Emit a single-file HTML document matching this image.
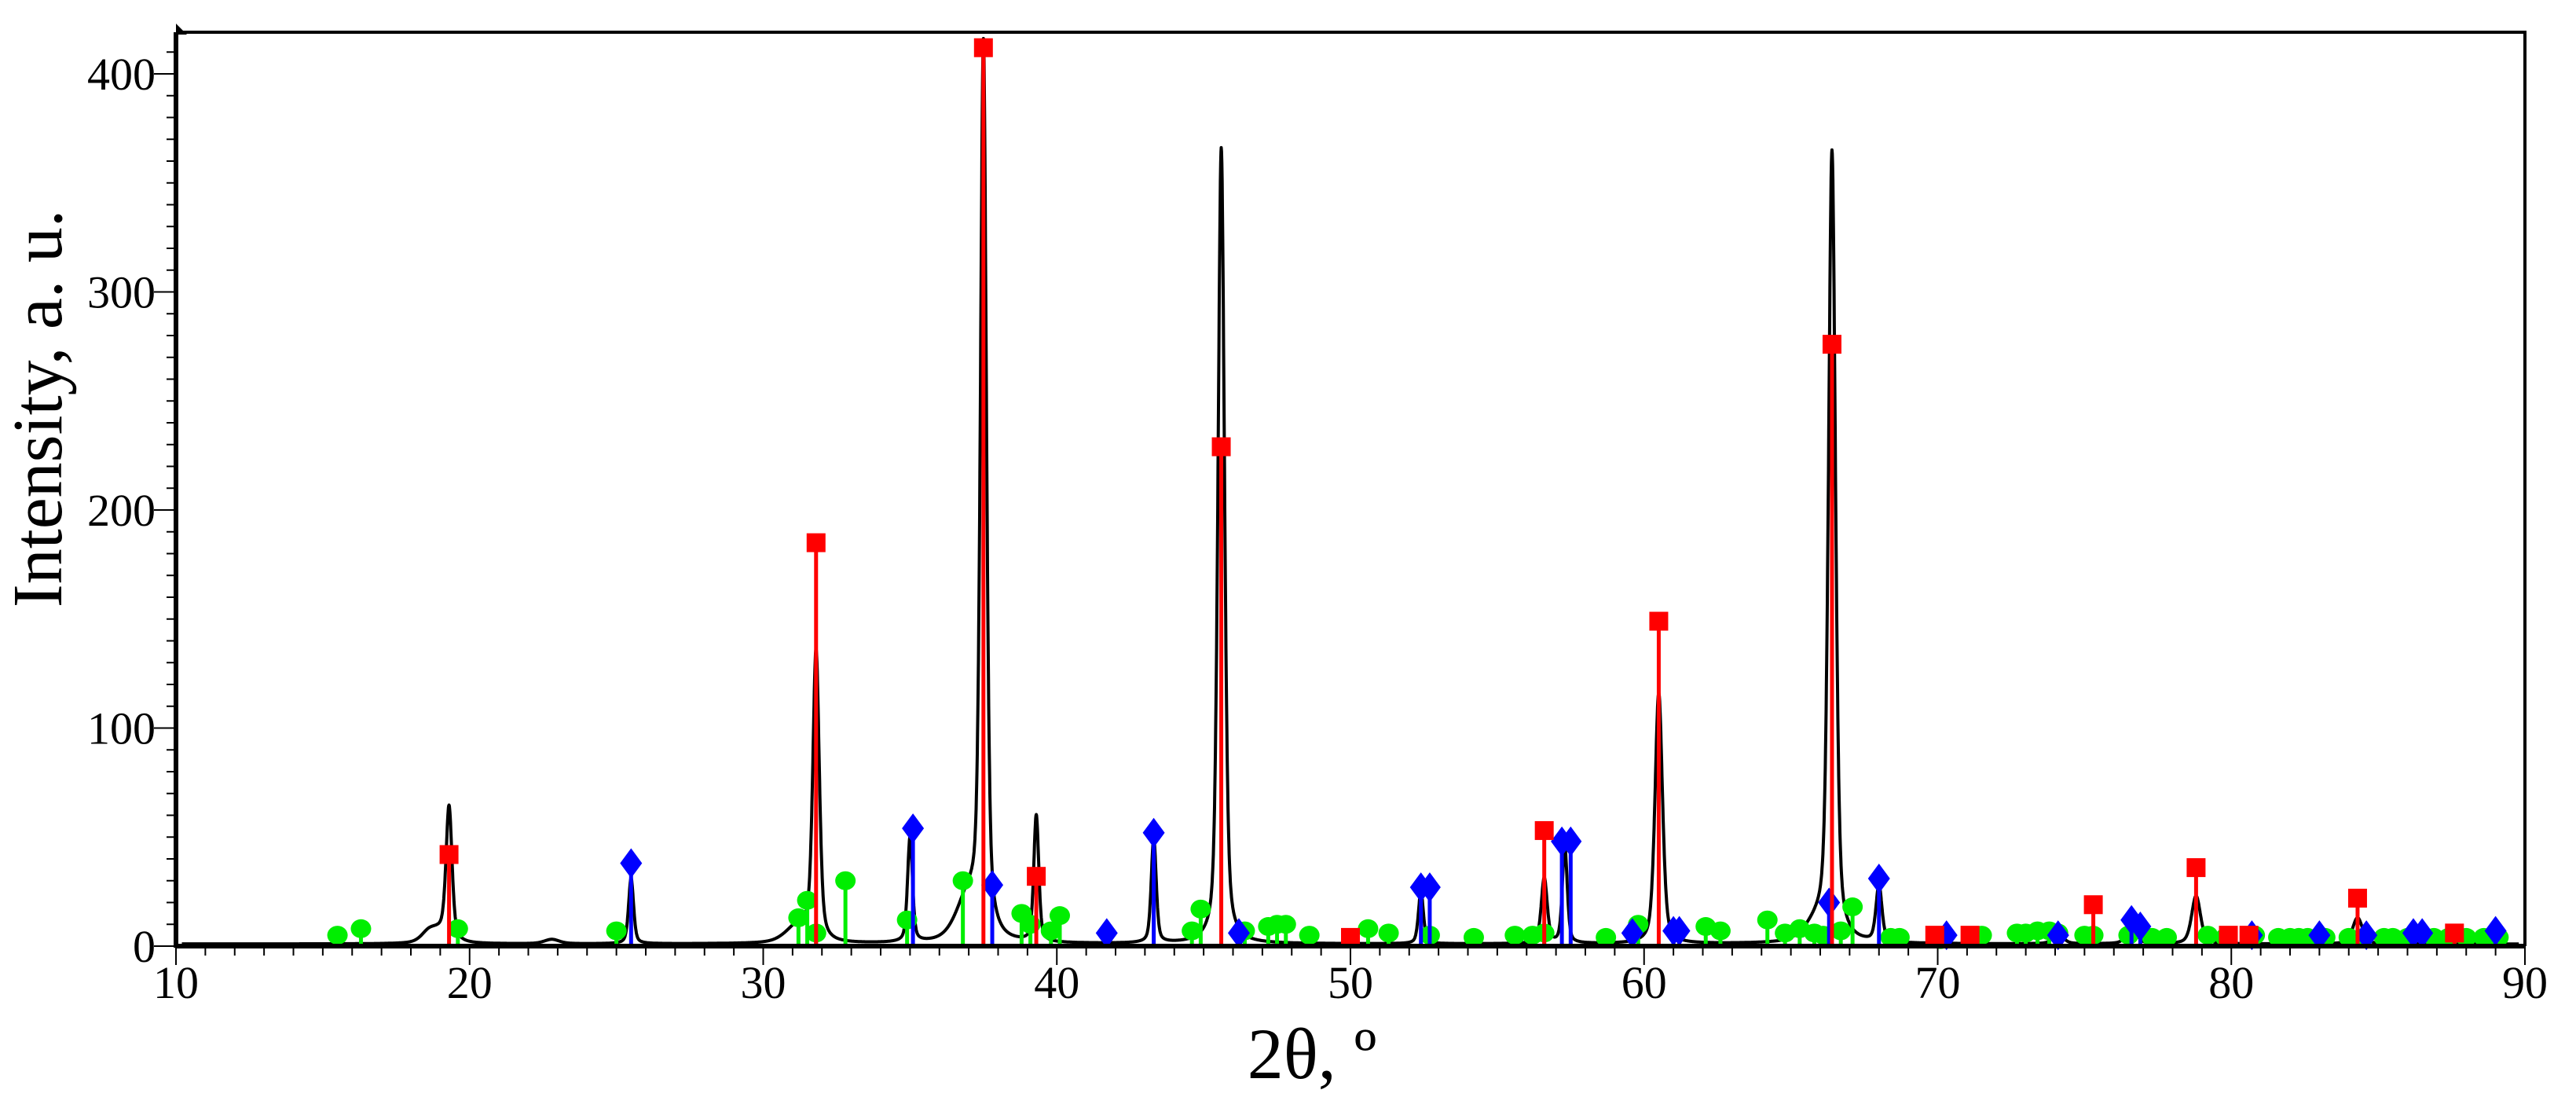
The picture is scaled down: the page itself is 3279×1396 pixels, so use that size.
<!DOCTYPE html>
<html><head><meta charset="utf-8"><style>
html,body{margin:0;padding:0;background:#fff;}
svg{display:block;font-family:"Liberation Serif",serif;}
</style></head><body>
<svg id="chart" width="3279" height="1396" viewBox="0 0 3279 1396" xmlns="http://www.w3.org/2000/svg">
<g id="frame"></g>
<g id="pattern"></g>
<g id="green"></g>
<g id="blue"></g>
<g id="red"></g>
<g id="axes"></g>
</svg>
<script>
// Diffraction pattern peaks (2theta, height, half-width)
const peakPos = [19.3,31.8,37.5,39.3,45.6,56.6,57.3,60.5,66.4,78.8,84.3,35.0,25.5,43.3,52.4,68.0,74.1,76.6,31.2,37.0,19.0,18.6,22.8,65.9];
const peakHeight = [60,132,405,58,365,30,44,115,360,22,12,48,30,48,24,26,5,8,8,20,5,4,2,8];
const peakWidth = [0.12,0.13,0.12,0.1,0.13,0.12,0.1,0.15,0.14,0.18,0.2,0.1,0.1,0.1,0.1,0.12,0.2,0.2,0.5,0.5,0.4,0.3,0.3,0.5];
// Red reference (2theta, intensity)
const redX = [19.3,31.8,37.5,39.3,45.6,50.0,56.6,60.5,66.4,69.9,71.1,75.3,78.8,79.9,80.6,84.3,87.6];
const redY = [42,185,412,32,229,4,53,149,276,5,5,19,36,5,5,22,6];
// Blue reference
const blueX = [25.5,35.1,37.8,41.7,43.3,46.2,52.4,52.7,57.2,57.5,59.6,61.0,61.2,66.3,68.0,70.3,74.1,76.6,76.9,80.7,83.0,84.6,86.2,86.5,89.0];
const blueY = [38,54,28,6,52,6,27,27,48,48,6,7,7,20,31,5,5,12,9,5,5,5,6,6,7];
// Green reference
const greenX = [15.5,16.3,19.6,25.0,31.2,31.5,31.8,32.8,34.9,36.8,38.8,39.1,39.8,40.1,44.6,44.9,46.4,47.2,47.5,47.8,48.6,50.6,51.3,52.7,54.2,55.6,56.2,56.6,58.7,59.8,62.1,62.6,64.2,64.8,65.3,65.8,66.1,66.7,67.1,68.4,68.7,70.1,71.5,72.7,73.0,73.4,73.8,74.1,75.0,75.3,76.5,77.3,77.8,79.2,79.8,80.8,81.6,82.0,82.3,82.6,83.2,84.0,84.5,85.2,85.5,86.0,86.9,87.4,88.0,88.6,89.1];
const greenY = [5,8,8,7,13,21,6,30,12,30,15,10,7,14,7,17,7,9,10,10,5,8,6,5,4,5,5,6,4,10,9,7,12,6,8,6,5,7,18,4,4,3,5,6,6,7,7,6,5,5,5,4,4,5,4,5,4,4,4,4,4,4,4,4,4,4,4,4,4,4,4];
const xTickLabels = ["10","20","30","40","50","60","70","80","90"];
const yTickLabels = ["0","100","200","300","400"];

const NS="http://www.w3.org/2000/svg";
const X0=224,X1=3214,Y0=1204,YT=94;
function X(v){return X0+(v-10)*(X1-X0)/80;}
function Y(v){return Y0-v*(Y0-YT)/400;}
function mk(tag,attrs,parent){const e=document.createElementNS(NS,tag);for(const k in attrs)e.setAttribute(k,attrs[k]);document.getElementById(parent).appendChild(e);return e;}

let f=mk('path',{d:`M${X0} 41 H${X1} V${Y0}`,fill:'none',stroke:'#000','stroke-width':4},'frame');



let d='';
for(let t=10.2;t<=89.8;t+=0.01){
  let s=1;
  for(let i=0;i<peakPos.length;i++){const g=peakWidth[i];const u=(t-peakPos[i])/g;s+=peakHeight[i]*(0.45/(1+u*u)+0.55*Math.exp(-0.693*u*u));}
  d+=(d?'L':'M')+X(t).toFixed(1)+' '+Y(s).toFixed(1);
}
let p=mk('path',{d:d,fill:'none',stroke:'#000','stroke-width':4,'stroke-linejoin':'round'},'pattern');



function sticks(xs,ys,color,shape,grp){
  for(let i=0;i<xs.length;i++){
    const x=X(xs[i]),y=Y(ys[i]);
    const l=mk('line',{x1:x,x2:x,y1:Y0,y2:y,stroke:color,'stroke-width':5},grp);
    
    
    let m;
    if(shape==='square') m=mk('rect',{x:x-12,y:y-12,width:24,height:24,fill:color},grp);
    else if(shape==='diamond') m=mk('polygon',{points:`${x},${y-19} ${x+14},${y} ${x},${y+19} ${x-14},${y}`,fill:color},grp);
    else m=mk('ellipse',{cx:x,cy:y,rx:13,ry:12,fill:color},grp);
    
    
  }
}
sticks(greenX,greenY,'#00ee00','circle','green');
sticks(blueX,blueY,'#0000ff','diamond','blue');
sticks(redX,redY,'#ff0000','square','red');

let ax=mk('line',{x1:X0,x2:X0,y1:41,y2:Y0+2,stroke:'#000','stroke-width':6},'axes');


let ar=mk('polygon',{points:`${X0},30 ${X0+14},44 ${X0},44`,fill:'#000'},'axes');


let bx=mk('line',{x1:X0,x2:X1,y1:Y0,y2:Y0,stroke:'#000','stroke-width':6},'axes');


for(let v=0;v<=410;v+=10){
  const maj=v%100===0;
  const t=mk('line',{x1:X0-(maj?28:12),x2:X0,y1:Y(v),y2:Y(v),stroke:'#000','stroke-width':2},'axes');
  
  
}
for(let v=10;v<=90;v++){
  const maj=v%10===0;
  const t=mk('line',{x1:X(v),x2:X(v),y1:Y0,y2:Y0+(maj?24:12),stroke:'#000','stroke-width':2},'axes');
  
  
}
xTickLabels.forEach((s,i)=>{
  const t=mk('text',{x:X(10+i*10),y:Y0+66,'text-anchor':'middle','font-size':58},'axes');
  t.textContent=s;
  
  
});
yTickLabels.forEach((s,i)=>{
  const t=mk('text',{x:198,y:Y(i*100)+20,'text-anchor':'end','font-size':58},'axes');
  t.textContent=s;
  
  
});
let xt=mk('text',{x:1670,y:1372,'text-anchor':'middle','font-size':92},'axes');
xt.textContent='2θ, º';


let yt=mk('text',{x:0,y:0,'text-anchor':'middle','font-size':90,transform:'translate(78,520) rotate(-90)'},'axes');
yt.textContent='Intensity, a. u.';


</script>
</body></html>
